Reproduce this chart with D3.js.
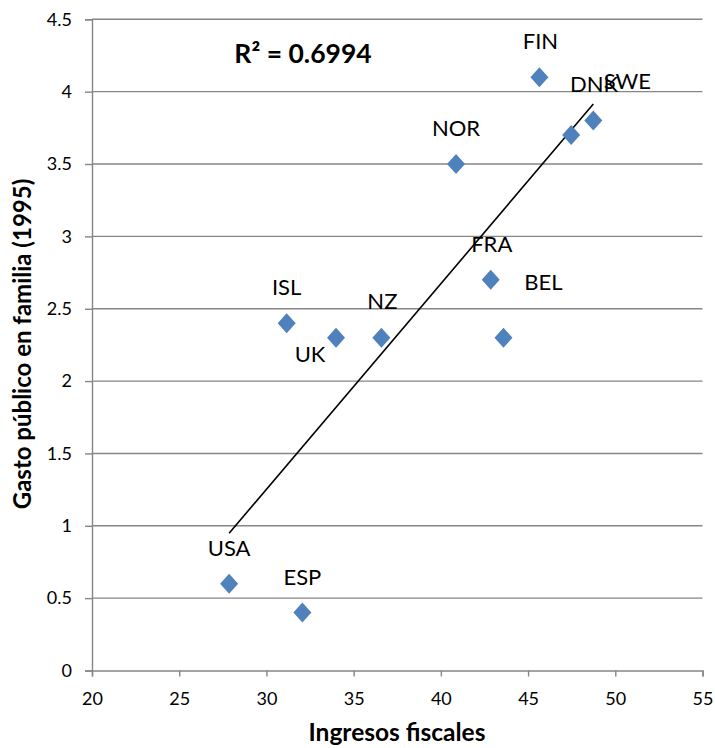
<!DOCTYPE html>
<html><head><meta charset="utf-8">
<script src="https://cdn.jsdelivr.net/npm/d3@7"></script>
<style>
html,body{margin:0;padding:0;background:#fff;}
text{font-family:Lato, "Open Sans", sans-serif;fill:#000;}
</style></head>
<body>
<svg id="chart" width="715" height="748"></svg>
<script>
// Data
const countries = ["USA","ESP","ISL","UK","NZ","FRA","BEL","NOR","FIN","DNK","SWE"];
const ingresos  = [27.86, 32.06, 31.16, 33.99, 36.59, 42.86, 43.59, 40.87, 45.65, 47.47, 48.74];
const gasto     = [0.6, 0.4, 2.4, 2.3, 2.3, 2.7, 2.3, 3.5, 4.1, 3.7, 3.8];
const xTicks = [20,25,30,35,40,45,50,55];
const yTicks = [0,0.5,1,1.5,2,2.5,3,3.5,4,4.5];
const r2Text = "R² = 0.6994";
const xTitle = "Ingresos fiscales";
const yTitle = "Gasto público en familia (1995)";

// Layout (label offsets in px, not data)
const labelOffsets = {
  USA:[0,-36], ESP:[0,-36], ISL:[0,-36], UK:[-26,16], NZ:[1,-37], FRA:[1,-36],
  BEL:[40,-56], NOR:[0,-36], FIN:[1,-36], DNK:[23,-51], SWE:[34,-40]
};

const svg = d3.select("#chart");
const L = 92, R = 702.5, T = 19.3, B = 670.5;
const x = d3.scaleLinear().domain([20,55]).range([L,R]);
const y = d3.scaleLinear().domain([0,4.5]).range([B,T]);
const grid = "#868686";

// gridlines
svg.append("g").selectAll("line").data(yTicks.filter(d=>d>0)).join("line")
  .attr("x1",L).attr("x2",R).attr("y1",d=>y(d)).attr("y2",d=>y(d))
  .attr("stroke",grid).attr("stroke-width",1.4);

// y axis
const yAxis = svg.append("g").attr("transform",`translate(${L},0)`)
  .call(d3.axisLeft(y).tickValues(yTicks).tickSize(7).tickPadding(13).tickFormat(d3.format("")));
yAxis.select(".domain").attr("stroke",grid).attr("stroke-width",1.4);
yAxis.selectAll(".tick line").attr("stroke",grid).attr("stroke-width",1.4);
yAxis.selectAll("text").style("font-size","18px").style("font-family","Lato").attr("fill","#000");

// x axis
const xAxis = svg.append("g").attr("transform",`translate(0,${B})`)
  .call(d3.axisBottom(x).tickValues(xTicks).tickSize(6).tickPadding(16).tickFormat(d3.format("")));
xAxis.select(".domain").attr("stroke",grid).attr("stroke-width",1.4);
xAxis.selectAll(".tick line").attr("stroke",grid).attr("stroke-width",1.4);
xAxis.selectAll("text").style("font-size","18px").style("font-family","Lato").attr("fill","#000");

// regression line from data
const n = ingresos.length;
const mx = d3.mean(ingresos), my = d3.mean(gasto);
let sxy=0, sxx=0;
for(let i=0;i<n;i++){ sxy += (ingresos[i]-mx)*(gasto[i]-my); sxx += (ingresos[i]-mx)**2; }
const slope = sxy/sxx, icpt = my - slope*mx;
const [xmin,xmax] = d3.extent(ingresos);
svg.append("line")
  .attr("x1",x(xmin)).attr("y1",y(icpt+slope*xmin))
  .attr("x2",x(xmax)).attr("y2",y(icpt+slope*xmax))
  .attr("stroke","#000").attr("stroke-width",1.6);

// markers
const pts = countries.map((c,i)=>({c, xv:ingresos[i], yv:gasto[i]}));
svg.append("g").selectAll("path").data(pts).join("path")
  .attr("transform",d=>`translate(${x(d.xv)},${y(d.yv)})`)
  .attr("d","M0,-10L9,0L0,10L-9,0Z")
  .attr("fill","#4f81bd");

// labels
svg.append("g").selectAll("text").data(pts).join("text")
  .attr("x",d=>x(d.xv)+labelOffsets[d.c][0])
  .attr("y",d=>y(d.yv)+labelOffsets[d.c][1])
  .attr("dy","0.36em")
  .attr("text-anchor","middle")
  .style("font-size","22px")
  .text(d=>d.c);

// R2
svg.append("text").attr("x",303).attr("y",63).attr("text-anchor","middle")
  .style("font-size","26.5px").style("font-weight","bold").text(r2Text);

// axis titles
svg.append("text").attr("x",397).attr("y",741).attr("text-anchor","middle")
  .style("font-size","24.5px").style("font-weight","bold").text(xTitle);
svg.append("text").attr("transform","translate(31,344) rotate(-90)").attr("text-anchor","middle")
  .style("font-size","24px").style("font-weight","bold").text(yTitle);
</script>
</body></html>
